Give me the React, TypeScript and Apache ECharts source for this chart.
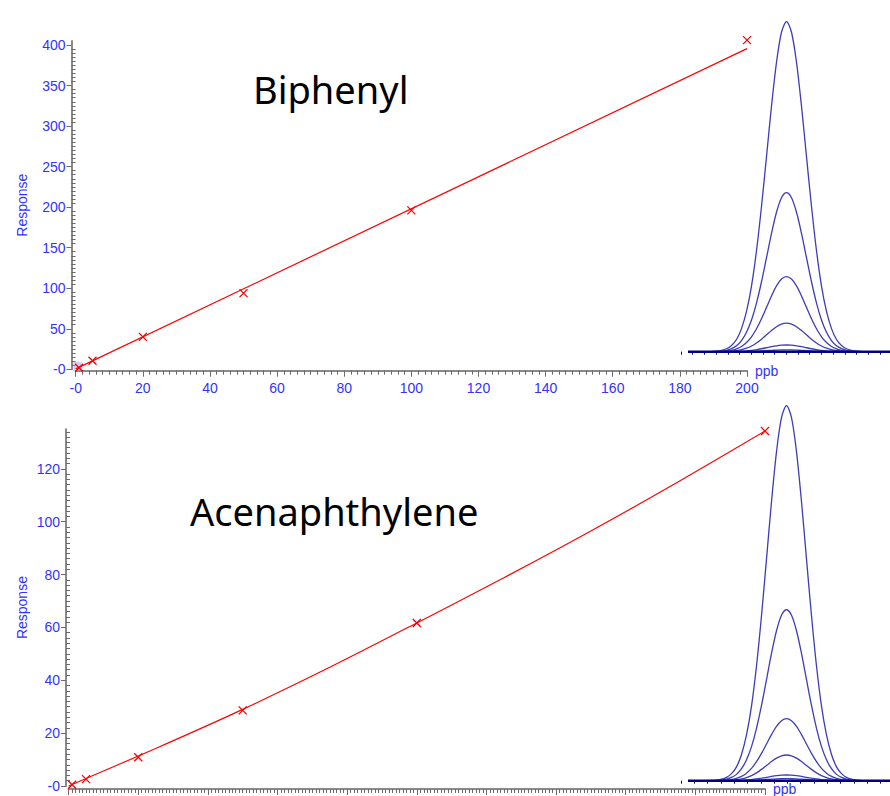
import React, { useEffect, useRef } from "react";
import * as echarts from "echarts";

// ---------- Biphenyl calibration (top) ----------
const biphenylConc = [1, 5, 20, 50, 100, 200];
const biphenylResp = [2, 10.5, 40, 94, 196, 406];
const biphenylFitConc = [0, 200];
const biphenylFitResp = [0.5, 395.5];

// ---------- Acenaphthylene calibration (bottom) ----------
const acenaConc = [1, 5, 20, 50, 100, 200];
const acenaResp = [0.5, 2.6, 10.9, 28.6, 61.7, 134.3];
const acenaFitConc = [0, 25, 50, 75, 100, 125, 150, 175, 200];
const acenaFitResp = [0, 14.2, 29.0, 44.9, 61.7, 78.8, 96.5, 115.0, 134.3];

// ---------- Inset chromatogram peaks ----------
// peak profile read off the overlay (relative height vs distance from apex)
const peakOffsets = [0, 5, 10, 15, 20, 25, 30, 35, 40, 45, 50, 55, 60, 65, 70, 75];
const peakProfile = [1, 0.968, 0.877, 0.744, 0.591, 0.44, 0.306, 0.199, 0.122, 0.07, 0.037, 0.019, 0.009, 0.004, 0.0016, 0.0006];
const peakApex = 105.5;
const peakTraceStart = 7;
const peakTraceEnd = 209;
const biphenylPeakHeights = [330, 159, 75, 28.5, 6.7, 1.8];
const acenaPeakHeights = [375, 171, 62, 25.7, 5.7, 2];

// ---------- Axis ticks ----------
const topXTicks = { min: 0, max: 200, interval: 20 };
const topYTicks = { min: 0, max: 405, interval: 50 };
const botXTicks = { min: 0, max: 200, interval: 20 };
const botYTicks = { min: 0, max: 135, interval: 20 };

const BLUE = "#3232ff";
const GRAY = "#8a8a8a";
const TICK = "#6a6a6a";
const RED = "#ff0000";
const PEAK = "#3d3db8";
const NAVY = "#000080";
const LABEL_FONT = "Liberation Sans, Arial, sans-serif";

const zip = (a: number[], b: number[]) => a.map((v, i) => [v, b[i]]);
const fmt = (v: number) => (v === 0 ? "-0" : String(v));

function peakData(h: number) {
  const pts: number[][] = [[peakTraceStart, 0]];
  for (let i = peakOffsets.length - 1; i > 0; i--) pts.push([peakApex - peakOffsets[i], h * peakProfile[i]]);
  pts.push([peakApex, h]);
  for (let i = 1; i < peakOffsets.length; i++) pts.push([peakApex + peakOffsets[i], h * peakProfile[i]]);
  pts.push([peakTraceEnd, 0]);
  return pts;
}

const XMARK = "path://M0,0L10,10M10,0L0,10";

function mainX(gridIndex: number, t: any, offset: number, showLabels: boolean, minorSplit: number) {
  return {
    type: "value",
    gridIndex,
    min: t.min,
    max: t.max,
    interval: t.interval,
    offset,
    axisLine: { show: true, onZero: false, lineStyle: { color: GRAY, width: 2 } },
    axisTick: { show: true, length: 6, lineStyle: { color: TICK, width: 1 } },
    minorTick: { show: true, splitNumber: minorSplit, length: 4, lineStyle: { color: TICK, width: 1 } },
    splitLine: { show: false },
    minorSplitLine: { show: false },
    axisLabel: { show: showLabels, color: BLUE, fontSize: 14, fontFamily: LABEL_FONT, margin: 10, formatter: fmt },
    name: "ppb",
    nameLocation: "end",
    nameGap: 8,
    nameTextStyle: { color: BLUE, fontSize: 14, fontFamily: LABEL_FONT },
  };
}

function mainY(gridIndex: number, t: any, offset: number, nameGap: number) {
  return {
    type: "value",
    gridIndex,
    min: t.min,
    max: t.max,
    interval: t.interval,
    offset,
    axisLine: { show: true, onZero: false, lineStyle: { color: GRAY, width: 2 } },
    axisTick: { show: true, length: 5, lineStyle: { color: TICK, width: 1 } },
    splitLine: { show: false },
    axisLabel: { color: BLUE, fontSize: 14, fontFamily: LABEL_FONT, margin: 6, formatter: fmt, showMaxLabel: false },
    name: "Response",
    nameLocation: "middle",
    nameRotate: 90,
    nameGap,
    nameMoveOverlap: false,
    nameTextStyle: { color: BLUE, fontSize: 14, fontFamily: LABEL_FONT },
  };
}

function minorY(gridIndex: number, t: any, offset: number) {
  return {
    type: "value",
    gridIndex,
    min: t.min,
    max: t.max,
    interval: t.interval,
    offset,
    position: "left",
    axisLine: { show: false, onZero: false },
    axisTick: { show: false, inside: true },
    minorTick: { show: true, splitNumber: 10, length: 4, lineStyle: { color: TICK, width: 1 } },
    splitLine: { show: false },
    axisLabel: { show: false },
  };
}

function insetX(gridIndex: number, interval: number) {
  return {
    type: "value",
    gridIndex,
    min: 0,
    max: 209,
    interval,
    axisLine: { show: false, onZero: false },
    axisTick: { show: true, length: 3, lineStyle: { color: NAVY, width: 1 } },
    axisLabel: { show: false },
    splitLine: { show: false },
  };
}

function insetY(gridIndex: number, max: number) {
  return { type: "value", gridIndex, min: 0, max, show: false, splitLine: { show: false } };
}

export default function App() {
  const ref = useRef<HTMLDivElement>(null);
  useEffect(() => {
    if (!ref.current) return;
    const chart = echarts.init(ref.current, undefined, { renderer: "svg" });
    const series: any[] = [];
    // top main
    series.push({
      type: "line", xAxisIndex: 0, yAxisIndex: 0, data: zip(biphenylFitConc, biphenylFitResp),
      showSymbol: false, lineStyle: { color: RED, width: 1.2 }, clip: false, z: 3,
    });
    series.push({
      type: "scatter", xAxisIndex: 0, yAxisIndex: 0, data: zip(biphenylConc, biphenylResp),
      symbol: XMARK, symbolSize: 8, itemStyle: { color: "none", borderColor: RED, borderWidth: 1.3, opacity: 1 }, z: 4, clip: false,
    });
    // bottom main
    series.push({
      type: "line", xAxisIndex: 1, yAxisIndex: 2, data: zip(acenaFitConc, acenaFitResp),
      showSymbol: false, smooth: 0.3, lineStyle: { color: RED, width: 1.2 }, clip: false, z: 3,
    });
    series.push({
      type: "scatter", xAxisIndex: 1, yAxisIndex: 2, data: zip(acenaConc, acenaResp),
      symbol: XMARK, symbolSize: 8, itemStyle: { color: "none", borderColor: RED, borderWidth: 1.3, opacity: 1 }, z: 4, clip: false,
    });
    // insets
    biphenylPeakHeights.forEach((h) =>
      series.push({
        type: "line", xAxisIndex: 2, yAxisIndex: 4, data: peakData(h), showSymbol: false, smooth: 0.3,
        lineStyle: { color: PEAK, width: 1.3 }, clip: false, z: 5, silent: true,
      })
    );
    series.push({
      type: "line", xAxisIndex: 2, yAxisIndex: 4, data: [[peakTraceStart, 0], [peakTraceEnd, 0]], showSymbol: false,
      lineStyle: { color: NAVY, width: 2.5 }, clip: false, z: 6, silent: true,
    });
    acenaPeakHeights.forEach((h) =>
      series.push({
        type: "line", xAxisIndex: 3, yAxisIndex: 5, data: peakData(h), showSymbol: false, smooth: 0.3,
        lineStyle: { color: PEAK, width: 1.3 }, clip: false, z: 5, silent: true,
      })
    );
    series.push({
      type: "line", xAxisIndex: 3, yAxisIndex: 5, data: [[peakTraceStart, 0], [peakTraceEnd, 0]], showSymbol: false,
      lineStyle: { color: NAVY, width: 2.5 }, clip: false, z: 6, silent: true,
    });

    chart.setOption({
      animation: false,
      backgroundColor: "#ffffff",
      grid: [
        { left: 75.7, right: 143, top: 40.95, bottom: 426.7, containLabel: false },
        { left: 68.6, right: 125, top: 429.2, bottom: 8, containLabel: false },
        { left: 681, width: 209, top: 21.7, height: 330, containLabel: false },
        { left: 681, width: 209, top: 405.7, height: 375, containLabel: false },
      ],
      xAxis: [
        mainX(0, topXTicks, 1.4, true, 10),
        mainX(1, botXTicks, 3, false, 20),
        insetX(2, 11.7),
        insetX(3, 13.3),
      ],
      yAxis: [
        mainY(0, topYTicks, 4.2, 42.5),
        minorY(0, topYTicks, 4.2),
        mainY(1, botYTicks, 2.6, 37),
        minorY(1, botYTicks, 2.6),
        insetY(2, 330),
        insetY(3, 375),
      ],
      graphic: [
        { type: "rect", shape: { x: 73.3, y: 361.7, width: 8.4, height: 9 }, style: { fill: "rgba(150,150,255,0.45)" }, z: 1 },
        { type: "text", x: 253, y: 88.5, style: { text: "Biphenyl", font: '38px "Noto Sans"', fill: "#000", verticalAlign: "middle" }, z: 10 },
        { type: "text", x: 190, y: 510.5, style: { text: "Acenaphthylene", font: '38px "Noto Sans"', fill: "#000", verticalAlign: "middle" }, z: 10 },
      ],
      series,
    });
    return () => chart.dispose();
  }, []);
  return <div ref={ref} style={{ position: "absolute", left: 0, top: 0, width: 890, height: 796 }} />;
}
